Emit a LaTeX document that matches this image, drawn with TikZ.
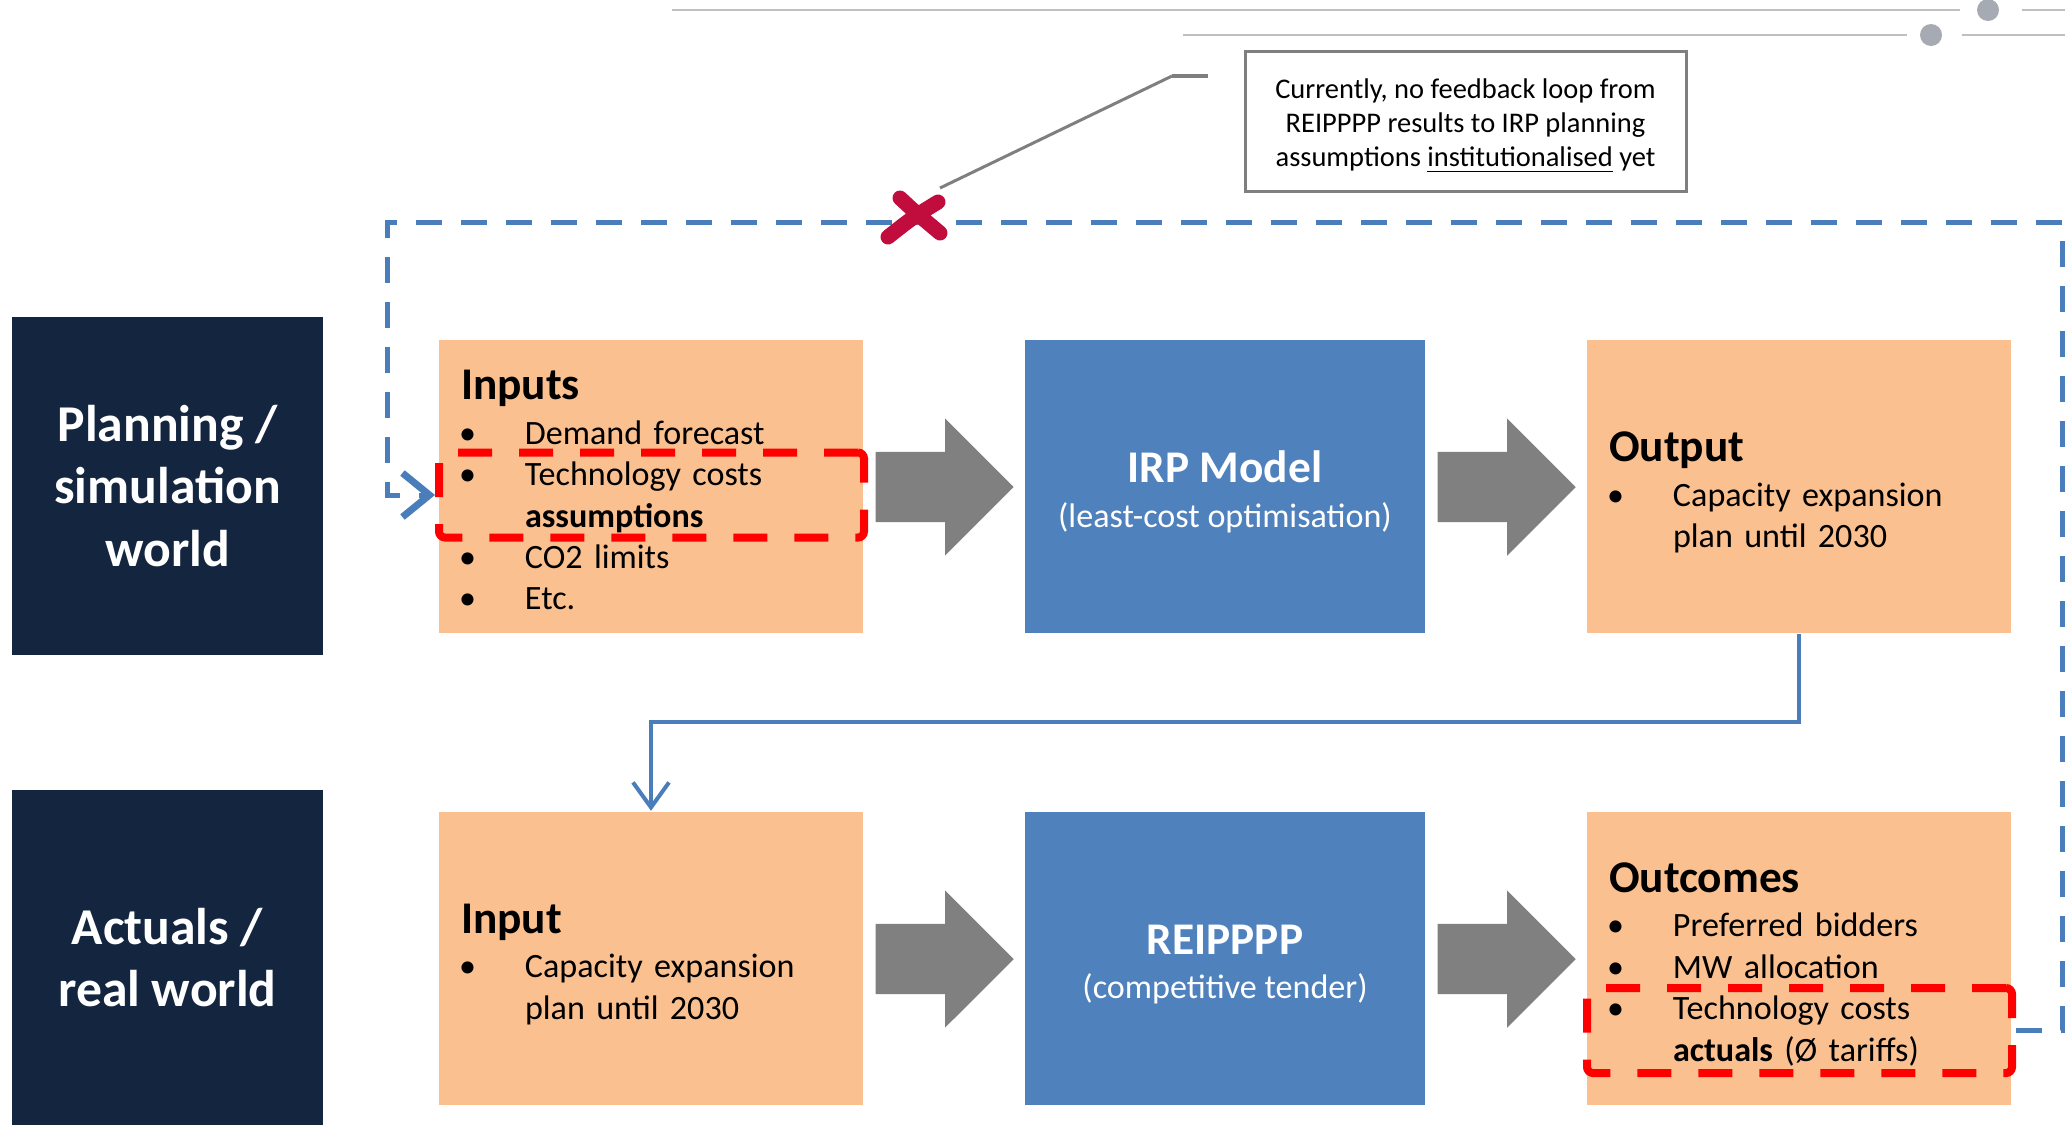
\documentclass[tikz,border=0pt]{standalone}
\usepackage{fontspec}
\setmainfont{Carlito}
\usepackage{tikz}
\usepackage{xcolor}
\usetikzlibrary{shapes.arrows,arrows.meta}

\definecolor{navy}{HTML}{13253F}
\definecolor{peach}{HTML}{FAC090}
\definecolor{irpblue}{HTML}{4F81BD}
\definecolor{loopblue}{HTML}{4A7EBB}
\definecolor{crossred}{HTML}{C00D3E}
\definecolor{decogray}{HTML}{BFBFBF}
\definecolor{dotgray}{HTML}{A6ABB3}
\definecolor{notegray}{HTML}{7F7F7F}

\newcommand{\hdr}{\fontsize{12.9}{15.5}\selectfont\bfseries\rule{0pt}{12pt}}
\newcommand{\bul}[1]{\makebox[0.64cm][l]{\hspace{-0.02cm}\textbullet}#1}
\newcommand{\cont}[1]{\hspace*{0.64cm}#1}

\begin{document}
\begin{tikzpicture}[
  world/.style={fill=navy,text=white,align=center,inner sep=0pt,
    minimum width=3.11cm,font=\fontsize{14.7}{17.9}\selectfont\bfseries},
  infobox/.style={fill=peach,minimum height=2.93cm,text width=3.80cm,
    inner xsep=0.22cm,align=left,font=\fontsize{9.7}{11.8}\selectfont},
  modelbox/.style={fill=irpblue,text=white,minimum width=4.0cm,minimum height=2.93cm,
    align=center,font=\fontsize{9.7}{11.8}\selectfont},
  redbox/.style={draw=red,line width=0.08cm,dash pattern=on 0.34cm off 0.27cm,
    rounded corners=0.06cm,minimum width=4.25cm,minimum height=0.85cm,inner sep=0pt},
  garrow/.style={single arrow,fill=gray,draw=none,inner sep=0pt,inner ysep=0.345cm,
    minimum height=1.38cm,single arrow head extend=0.335cm,single arrow tip angle=90,anchor=tail},
  link/.style={draw=loopblue,line width=0.04cm,-{Straight Barb[length=0.25cm,width=0.36cm]}},
  loopline/.style={draw=loopblue,line width=0.05cm,dash pattern=on 0.26cm off 0.19cm,
    -{Straight Barb[length=0.27cm,width=0.44cm,line width=0.07cm]}},
  note/.style={draw=notegray,line width=0.03cm,minimum width=4.41cm,minimum height=1.40cm,
    align=center,font=\fontsize{8.1}{9.7}\selectfont},
  pointer/.style={draw=notegray,line width=0.03cm},
  cross/.style={draw=crossred,line width=0.15cm,line cap=round},
  deco/.style={draw=decogray,line width=0.025cm}
]
\useasboundingbox (0,0) rectangle (20.65,-11.25);

% header lines
\draw[deco] (6.72,-0.10) -- (19.60,-0.10);
\fill[dotgray] (19.88,-0.10) circle (0.11);
\draw[deco] (20.22,-0.10) -- (20.65,-0.10);
\draw[deco] (11.83,-0.35) -- (19.07,-0.35);
\fill[dotgray] (19.31,-0.35) circle (0.11);
\draw[deco] (19.62,-0.35) -- (20.65,-0.35);

\node[world,minimum height=3.38cm] (plan) at (1.675,-4.86) {Planning /\\simulation\\world};
\node[world,minimum height=3.35cm] (real) at (1.675,-9.575) {Actuals /\\real world};

\node[infobox] (inputs) at (6.51,-4.865) {{\hdr Inputs}\\[0.8pt]
  \bul{Demand forecast}\\ \bul{Technology costs}\\ \cont{\textbf{assumptions}}\\
  \bul{CO2 limits}\\ \bul{Etc.}\rule[-0.055cm]{0pt}{0pt}};
\node[modelbox] (irp) at (12.25,-4.865) {{\hdr IRP Model}\\[0.8pt](least-cost optimisation)};
\node[infobox] (output) at (17.99,-4.865) {{\hdr Output}\\[0.8pt]
  \bul{Capacity expansion}\\ \cont{plan until 2030}};

\node[infobox] (input) at (6.51,-9.58) {{\hdr Input}\\[0.8pt]
  \bul{Capacity expansion}\\ \cont{plan until 2030}};
\node[modelbox] (reip) at (12.25,-9.58) {{\hdr REIPPPP}\\[0.8pt](competitive tender)};
\node[infobox] (outcomes) at (17.99,-9.58) {{\hdr Outcomes}\\[0.8pt]
  \bul{Preferred bidders}\\ \bul{MW allocation}\\ \bul{Technology costs}\\
  \cont{\textbf{actuals} (Ø tariffs)}};

\node[garrow] (ga1) at (8.75,-4.87) {};
\node[garrow] (ga2) at (14.37,-4.87) {};
\node[garrow] (ga3) at (8.75,-9.59) {};
\node[garrow] (ga4) at (14.37,-9.59) {};

\node[redbox] (redA) at (6.515,-4.95) {};
\node[redbox] (redB) at (17.995,-10.305) {};

\draw[link] (output.south) -- (17.99,-7.22) -| (input.north);
\draw[loopline] (redB.east) -- (20.62,-10.305) -- (20.62,-2.22) -- (3.87,-2.22)
  -- (3.87,-4.95) -- (redA.west);

\node[note] (note) at (14.655,-1.21) {\rule{0pt}{8.4pt}Currently, no feedback loop from\\
  REIPPPP results to IRP planning\\assumptions \underline{institutionalised} yet};
\coordinate (stub) at (12.08,-0.76);
\coordinate (kink) at (11.72,-0.76);
\coordinate (xtip) at (9.40,-1.88);
\draw[pointer,line width=0.045cm] (stub) -- (kink);
\draw[pointer] (kink) -- (xtip);

\draw[cross] (9.00,-1.98) .. controls (9.15,-2.12) .. (9.40,-2.33);
\draw[cross] (9.38,-2.02) .. controls (9.12,-2.18) .. (8.88,-2.37);
\end{tikzpicture}
\end{document}
